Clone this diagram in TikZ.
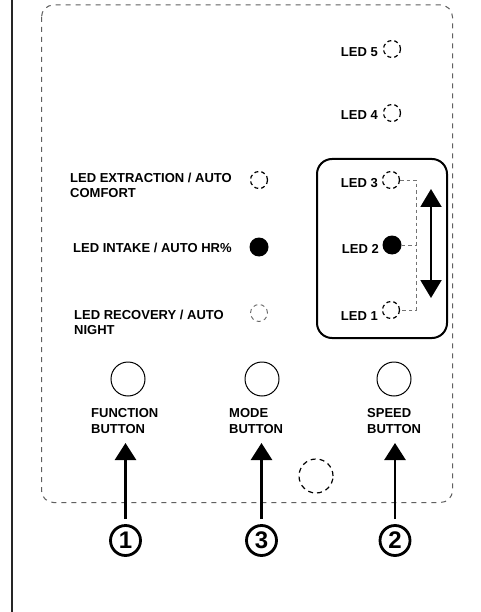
\documentclass[tikz,border=0pt]{standalone}
\usepackage{fontspec}
\setmainfont{Liberation Sans}
\usetikzlibrary{arrows.meta}
\definecolor{frame}{HTML}{606060}
\tikzset{
  lbl/.style={font=\bfseries\fontsize{13}{15}\selectfont, inner sep=0pt, align=left},
  btnlbl/.style={font=\bfseries\fontsize{13}{16}\selectfont, inner sep=0pt, align=left},
  ledoff/.style={circle, draw=black, line width=1.2pt, dash pattern=on 4pt off 3pt, minimum size=17pt, inner sep=0pt},
  ledfaint/.style={circle, draw=black!60, line width=0.9pt, dash pattern=on 4pt off 3.5pt, minimum size=17pt, inner sep=0pt},
  ledon/.style={circle, fill=black, minimum size=19pt, inner sep=0pt},
  btn/.style={circle, draw=black, line width=1pt, minimum size=34pt, inner sep=0pt},
  num/.style={circle, draw=black, line width=2.8pt, minimum size=30pt, inner sep=0pt, font=\bfseries\fontsize{24}{24}\selectfont},
  bigarrow/.style={line width=2.6pt, -{Triangle[width=21pt,length=17pt]}},
  dblarrow/.style={line width=2pt, {Triangle[width=21pt,length=18pt]}-{Triangle[width=21pt,length=18pt]}},
  link/.style={draw=black!55, line width=0.9pt, dash pattern=on 3.5pt off 3pt},
}
\begin{document}
\begin{tikzpicture}[x=1pt,y=-1pt]
\useasboundingbox (0,0) rectangle (480,612);
\fill[white] (0,0) rectangle (480,612);
% left rule
\draw[line width=1.3pt, black!85] (12,0) -- (12,612);
% panel outline
\draw[frame, line width=1pt, dash pattern=on 5pt off 5pt, rounded corners=12pt] (41.5,5) rectangle (452.5,502.5);
% speed group box
\draw[line width=2pt, rounded corners=15pt] (317,159) rectangle (447,338);

% right LEDs
\node[ledoff] (l5) at (392,49) {};
\node[lbl, anchor=base east] (t5) at (378,57) {LED 5};
\node[ledoff] (l4) at (392,113) {};
\node[lbl, anchor=base east] (t4) at (378,120) {LED 4};
\node[ledoff] (l3) at (391,180) {};
\node[lbl, anchor=base east] (t3) at (378,188) {LED 3};
\node[ledon] (l2) at (392,245) {};
\node[lbl, anchor=base east] (t2) at (379,253) {LED 2};
\node[ledoff] (l1) at (391,310) {};
\node[lbl, anchor=base east] (t1) at (378,320) {LED 1};

% dashed link between speed LEDs
\coordinate (c3) at (416,180);
\coordinate (c2) at (416,245);
\coordinate (c1) at (416,310);
\draw[link] (l3.east) -- (c3) -- (c1) -- (l1.east);
\draw[link] (l2.east) -- (c2);

% speed double arrow
\coordinate (up) at (431,189);
\coordinate (dn) at (431,298);
\draw[dblarrow] (up) -- (dn);

% left LEDs
\node[ledoff] (le) at (259,180) {};
\node[lbl, anchor=base west] (te) at (70,197) {LED EXTRACTION / AUTO\\COMFORT};
\node[ledon] (li) at (259,247) {};
\node[lbl, anchor=base west] (ti) at (73,252) {LED INTAKE / AUTO HR\%};
\node[ledfaint] (lr) at (259,313) {};
\node[lbl, anchor=base west] (tr) at (74,334) {LED RECOVERY / AUTO\\NIGHT};

% buttons
\node[btn] (bf) at (128,379) {};
\node[btn] (bm) at (262,379) {};
\node[btn] (bs) at (394,379) {};
\node[btnlbl, anchor=base west] (tf) at (91,433) {FUNCTION\\BUTTON};
\node[btnlbl, anchor=base west] (tm) at (229,433) {MODE\\BUTTON};
\node[btnlbl, anchor=base west] (ts) at (367,433) {SPEED\\BUTTON};

% sensor
\node[circle, draw=black, line width=1.2pt, dash pattern=on 5pt off 4pt, minimum size=34pt, inner sep=0pt] (sensor) at (316,476) {};

% numbered markers and arrows
\node[num] (n1) at (125.5,540.5) {1};
\node[num] (n3) at (261.5,540.5) {3};
\node[num] (n2) at (395,540.5) {2};
\coordinate (a1) at (125.5,443);
\coordinate (a3) at (261.5,443);
\coordinate (a2) at (395,443);
\draw[bigarrow, shorten <=5pt] (n1) -- (a1);
\draw[bigarrow, shorten <=5pt] (n3) -- (a3);
\draw[bigarrow, shorten <=5pt] (n2) -- (a2);
\end{tikzpicture}
\end{document}
